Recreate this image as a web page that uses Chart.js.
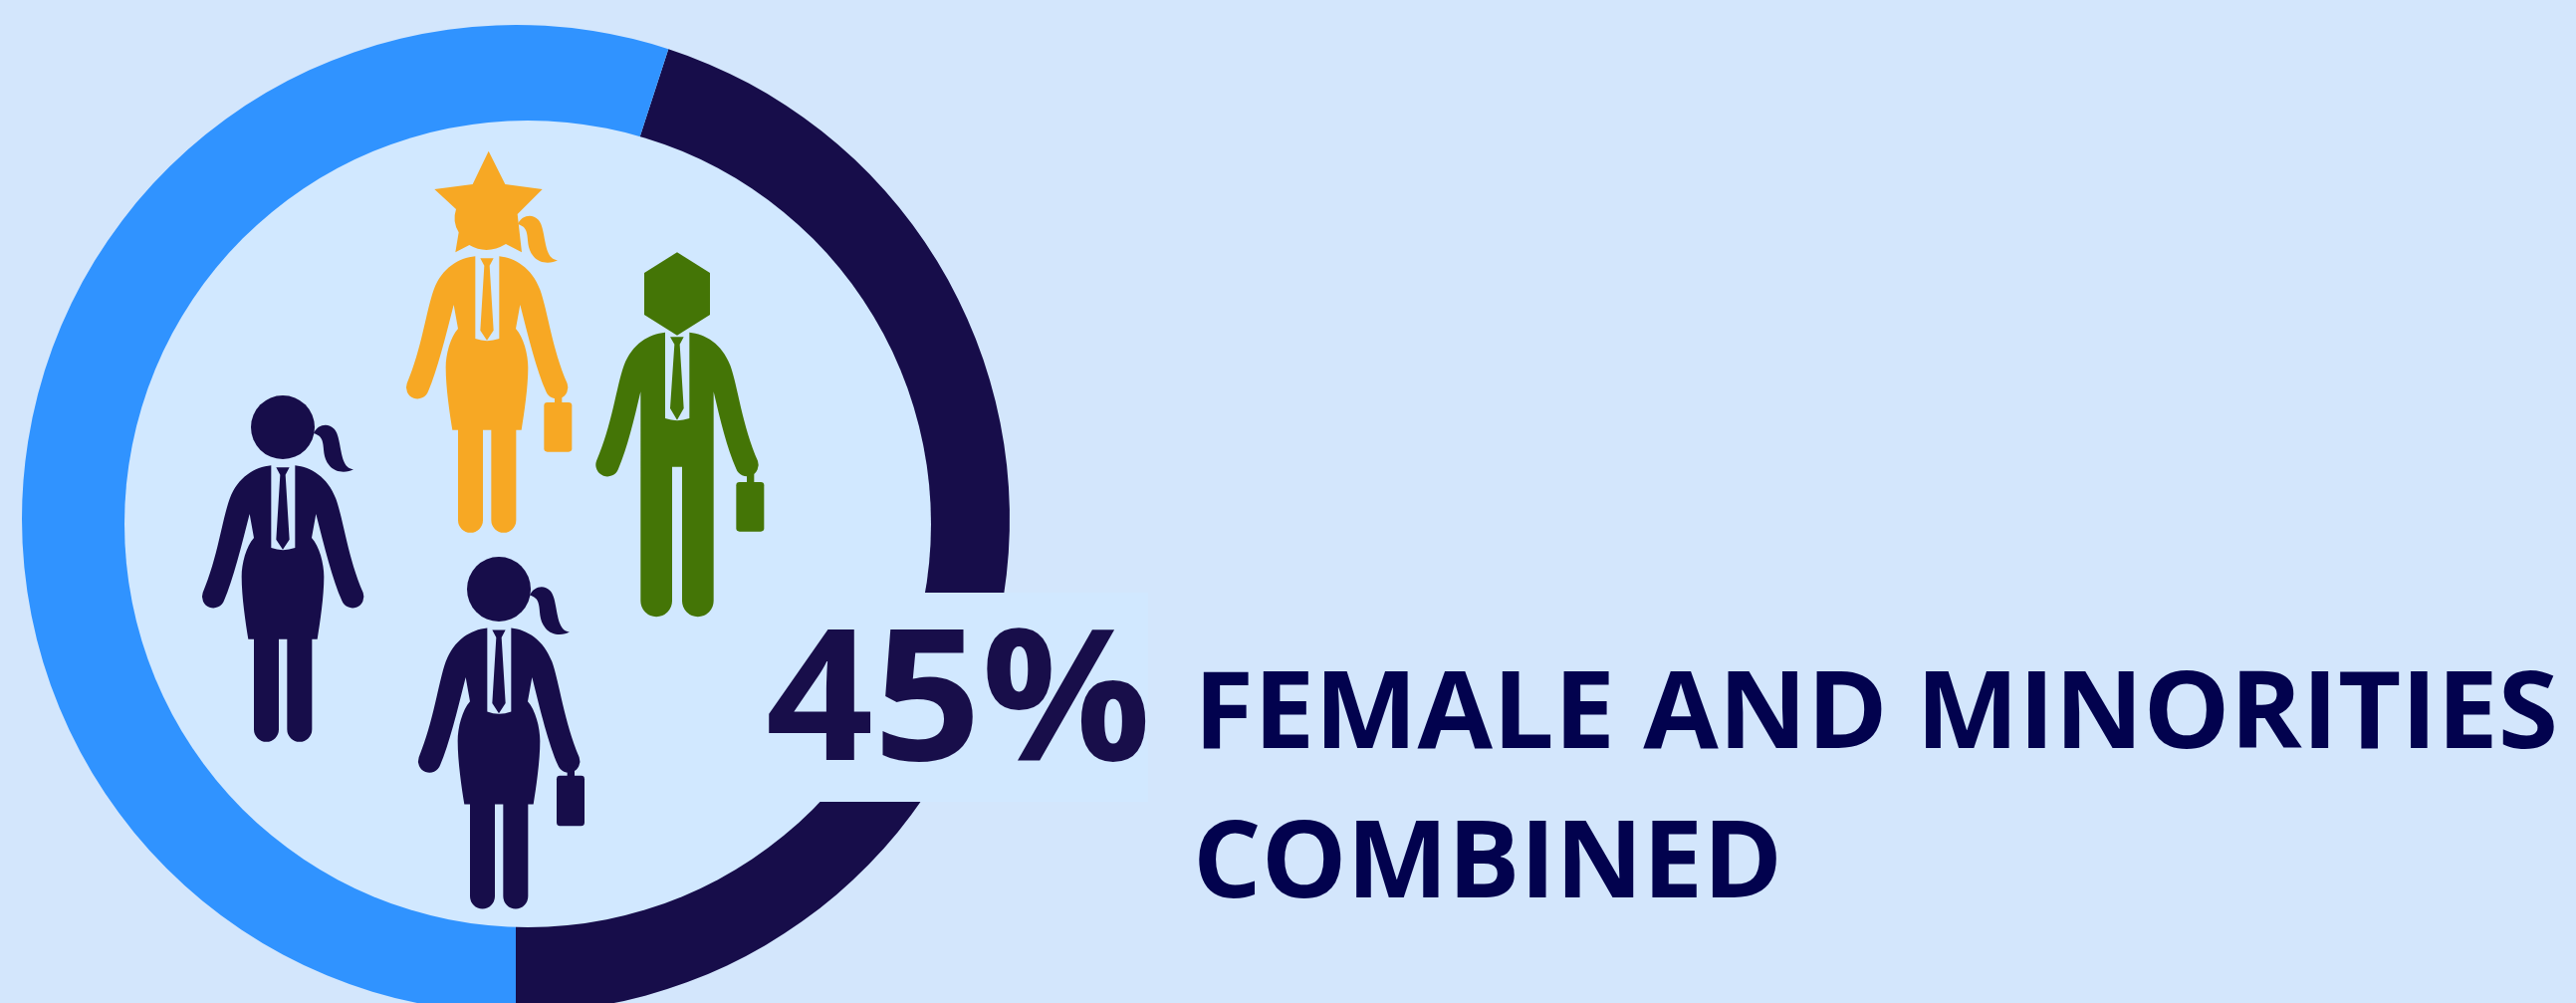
<!DOCTYPE html>
<html>
<head>
<meta charset="utf-8">
<title>45% female and minorities combined</title>
<script src="https://cdn.jsdelivr.net/npm/chart.js@4"></script>
<style>
html,body{margin:0;padding:0;width:2587px;height:1007px;overflow:hidden;background:#d3e6fc}
#wrap{position:absolute;left:0;top:0;width:2587px;height:1007px;overflow:hidden}
#c{position:absolute;left:0;top:0}
#t{position:absolute;left:0;top:0}
</style>
</head>
<body>
<div id="wrap">
<canvas id="c" width="2587" height="1042" style="width:2587px;height:1042px"></canvas>
<svg id="t" width="2587" height="1007" xmlns="http://www.w3.org/2000/svg">
  <text id="big" x="769" y="763" font-family="'Open Sans'" font-weight="700" font-size="184" fill="#180e4a" textLength="387" lengthAdjust="spacingAndGlyphs"></text>
  <text id="l1" x="1199" y="751" font-family="'Open Sans'" font-weight="700" font-size="107" fill="#02024e" textLength="1370" lengthAdjust="spacingAndGlyphs"></text>
  <text id="l2" x="1198" y="901" font-family="'Open Sans'" font-weight="700" font-size="107" fill="#02024e" textLength="592" lengthAdjust="spacingAndGlyphs"></text>
</svg>
</div>
<script>
const categories = ['Female and minorities', 'Others'];
const values = [45, 55];
const ringColors = ['#170d4a', '#3093ff'];
const captionLines = ['FEMALE AND MINORITIES', 'COMBINED'];

document.getElementById('big').textContent = values[0] + '%';
document.getElementById('l1').textContent = captionLines[0];
document.getElementById('l2').textContent = captionLines[1];

const PANEL = '#d1e8ff', NAVY = '#170d4a', ORANGE = '#f7a824', GREEN = '#447506';

const WOMAN = 'M-35,115 C-85,120 -135,150 -160,215 C-182,275 -197,395 -241,498 A34,34 0 0 0 -177,522 C-150,460 -125,360 -100,261 L-87,333 C-110,358 -124,410 -124,450 C-124,510 -112,590 -104,638 L-87,638 L-87,910 A37.5,37.5 0 0 0 -12,910 L-12,638 L13,638 L13,910 A37.5,37.5 0 0 0 88,910 L88,638 L104,638 C112,590 124,510 124,450 C124,410 110,358 87,333 L100,261 C125,360 150,460 178,522 A34,34 0 0 0 242,498 C197,395 182,275 160,215 C135,150 85,120 37,115 Z';
const MAN = 'M-36,116 C-85,121 -135,150 -160,215 C-182,275 -197,400 -243,503 A34,34 0 0 0 -177,527 C-150,465 -130,380 -110,295 L-110,925 A47.5,47.5 0 0 0 -15,925 L-15,521 L15,521 L15,925 A47.5,47.5 0 0 0 110,925 L110,295 C130,380 150,465 178,527 A34,34 0 0 0 243,503 C197,400 182,275 160,215 C135,150 85,121 37,116 Z';
const PONY = 'M93,18 C105,-8 135,-15 155,5 C172,22 172,75 185,105 C192,120 200,125 213,127 C195,137 160,140 140,115 C120,90 125,65 120,45 C117,28 105,22 93,18 Z';
const COLLAR_W = 'M-35,105 L37,105 L37,363 Q0,376 -35,363 Z';
const COLLAR_M = 'M-36,105 L37,105 L37,375 Q0,388 -36,375 Z';
const TIE_W = 'M-20,121 L20,121 L8,143 L20,338 L0,368 L-20,338 L-8,143 Z';
const TIE_M = 'M-21,130 L20,130 L8,152 L20,345 L0,380 L-21,345 L-8,152 Z';
const STAR = 'M5,-202 L55,-102 L167,-87 L92,-12 L105,103 L57,78 Q0,112 -53,81 L-95,103 L-85,43 Q-105,10 -93,-27 L-158,-87 L-43,-102 Z';
const HEX = 'M0,-125 L99,-63 L99,63 L0,125 L-99,63 L-99,-63 Z';

function fillP(ctx, color, d) { ctx.fillStyle = color; ctx.fill(new Path2D(d)); }
function roundBox(ctx, color, x, y, w, h, r) {
  ctx.fillStyle = color; ctx.beginPath(); ctx.roundRect(x, y, w, h, r); ctx.fill();
}
function figure(ctx, opt) {
  ctx.save();
  ctx.translate(opt.x, opt.y);
  ctx.scale(1/3, (opt.sy || 1)/3);
  const male = opt.head === 'hex';
  fillP(ctx, opt.color, male ? MAN : WOMAN);
  fillP(ctx, PANEL, male ? COLLAR_M : COLLAR_W);
  fillP(ctx, opt.color, male ? TIE_M : TIE_W);
  if (opt.head === 'hex') fillP(ctx, opt.color, HEX);
  if (opt.head === 'star') fillP(ctx, opt.color, STAR);
  if (opt.head === 'round') { ctx.fillStyle = opt.color; ctx.beginPath(); ctx.arc(0, 0, 96, 0, Math.PI*2); ctx.fill(); }
  if (!male) fillP(ctx, opt.color, PONY);
  if (opt.caseY != null) {
    ctx.fillStyle = opt.color;
    ctx.fillRect(opt.caseX + 32, opt.caseY - 30, 22, 34);
    roundBox(ctx, opt.color, opt.caseX, opt.caseY, 84, 149, 10);
  }
  ctx.restore();
}

const decor = {
  id: 'decor',
  afterDatasetsDraw(chart) {
    const ctx = chart.ctx;
    ctx.save();
    ctx.fillStyle = PANEL;
    ctx.beginPath(); ctx.arc(530, 526, 405, 0, Math.PI*2); ctx.fill();
    ctx.fillRect(700, 595, 453, 210);
    ctx.restore();
    figure(ctx, {x:284, y:429, color:NAVY, head:'round'});
    figure(ctx, {x:489, y:219, color:ORANGE, head:'star', caseX:172, caseY:555});
    figure(ctx, {x:680, y:295, color:GREEN, head:'hex', caseX:178, caseY:567});
    figure(ctx, {x:501, y:591.5, color:NAVY, head:'round', sy:1.016, caseX:174, caseY:553});
  }
};

new Chart(document.getElementById('c'), {
  type: 'doughnut',
  data: {
    labels: categories,
    datasets: [{ data: values, backgroundColor: ringColors, borderWidth: 0 }]
  },
  options: {
    responsive: false,
    animation: false,
    rotation: 18,
    cutout: '78%',
    layout: { padding: { left: 22, right: 1573, top: 25, bottom: 25 } },
    plugins: { legend: { display: false }, tooltip: { enabled: false }, title: { display: false } }
  },
  plugins: [decor]
});
</script>
</body>
</html>
